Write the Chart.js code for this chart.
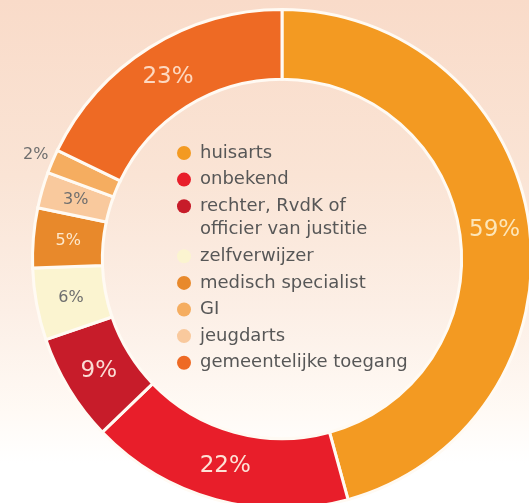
<!DOCTYPE html>
<html>
<head>
<meta charset="utf-8">
<script src="https://cdn.jsdelivr.net/npm/chart.js@4/dist/chart.umd.min.js"></script>
<style>
  html, body { margin: 0; padding: 0; width: 529px; height: 503px; overflow: hidden; }
  body { background: linear-gradient(to bottom, #f9dbc9 0%, #fae4d5 35%, #fcefe6 62%, #fffaf5 82%, #ffffff 92%); position: relative; }
  #wrap { position: absolute; left: 0; top: 0; width: 560px; height: 520px; }
</style>
</head>
<body>
<div id="wrap"><canvas id="c" width="560" height="520"></canvas></div>
<script>
// Data in ring order (clockwise from the top)
const categories = ['huisarts', 'onbekend', 'rechter, RvdK of\nofficier van justitie', 'zelfverwijzer', 'medisch specialist', 'jeugdarts', 'GI', 'gemeentelijke toegang'];
const values = [59, 22, 9, 6, 5, 3, 2, 23];
const sliceColors = ['#f39a22', '#e81e2a', '#c71c2a', '#fbf4d0', '#e8892b', '#f9c99d', '#f5ad60', '#ee6a24'];
// Legend order as shown in the centre of the ring
const legendOrder = ['huisarts', 'onbekend', 'rechter, RvdK of\nofficier van justitie', 'zelfverwijzer', 'medisch specialist', 'GI', 'jeugdarts', 'gemeentelijke toegang'];

const labelStyle = [
  { color: '#fde6b8', size: 23, outside: false },
  { color: '#fde2d6', size: 23, outside: false },
  { color: '#fbdcd4', size: 23, outside: false },
  { color: '#6e6e6e', size: 16, outside: false },
  { color: '#fde8cc', size: 16, outside: false },
  { color: '#6e6e6e', size: 16, outside: false },
  { color: '#6e6e6e', size: 16, outside: true },
  { color: '#fdd8c0', size: 23, outside: false }
];

const centerLegend = {
  id: 'centerLegend',
  afterDatasetsDraw(chart) {
    const ctx = chart.ctx;
    const meta = chart.getDatasetMeta(0);
    const arc0 = meta.data[0];
    const cx = arc0.x, cy = arc0.y;
    // value labels
    meta.data.forEach((arc, i) => {
      const st = labelStyle[i];
      let x, y;
      if (st.outside) {
        const mid = (arc.startAngle + arc.endAngle) / 2;
        const r = arc.outerRadius + 18;
        x = cx + Math.cos(mid) * r;
        y = cy + Math.sin(mid) * r;
      } else {
        const p = arc.tooltipPosition();
        x = p.x; y = p.y;
      }
      ctx.save();
      ctx.font = st.size + 'px "DejaVu Sans"';
      ctx.fillStyle = st.color;
      ctx.textAlign = 'center';
      ctx.textBaseline = 'middle';
      ctx.fillText(values[i] + '%', x, y);
      ctx.restore();
    });
    // legend in the centre
    ctx.save();
    ctx.font = '18px "DejaVu Sans"';
    ctx.textBaseline = 'middle';
    ctx.textAlign = 'left';
    let y = cy - 106;
    const lh = 26.6, sub = 23.5;
    legendOrder.forEach(name => {
      const idx = categories.indexOf(name);
      ctx.beginPath();
      ctx.arc(cx - 98, y, 7, 0, Math.PI * 2);
      ctx.fillStyle = sliceColors[idx];
      ctx.fill();
      ctx.fillStyle = '#575757';
      const lines = name.split('\n');
      lines.forEach((ln, k) => {
        ctx.fillText(ln, cx - 82, y + k * sub);
      });
      y += lh + (lines.length - 1) * sub;
    });
    ctx.restore();
  }
};

new Chart(document.getElementById('c'), {
  type: 'doughnut',
  data: {
    labels: categories,
    datasets: [{
      data: values,
      backgroundColor: sliceColors,
      borderColor: '#fffaf3',
      borderWidth: 3,
      borderJoinStyle: 'miter'
    }]
  },
  options: {
    responsive: false,
    animation: false,
    cutout: '72%',
    layout: { padding: { left: 31, top: 8, right: 27, bottom: 10 } },
    plugins: {
      legend: { display: false },
      tooltip: { enabled: false }
    }
  },
  plugins: [centerLegend]
});
</script>
</body>
</html>
